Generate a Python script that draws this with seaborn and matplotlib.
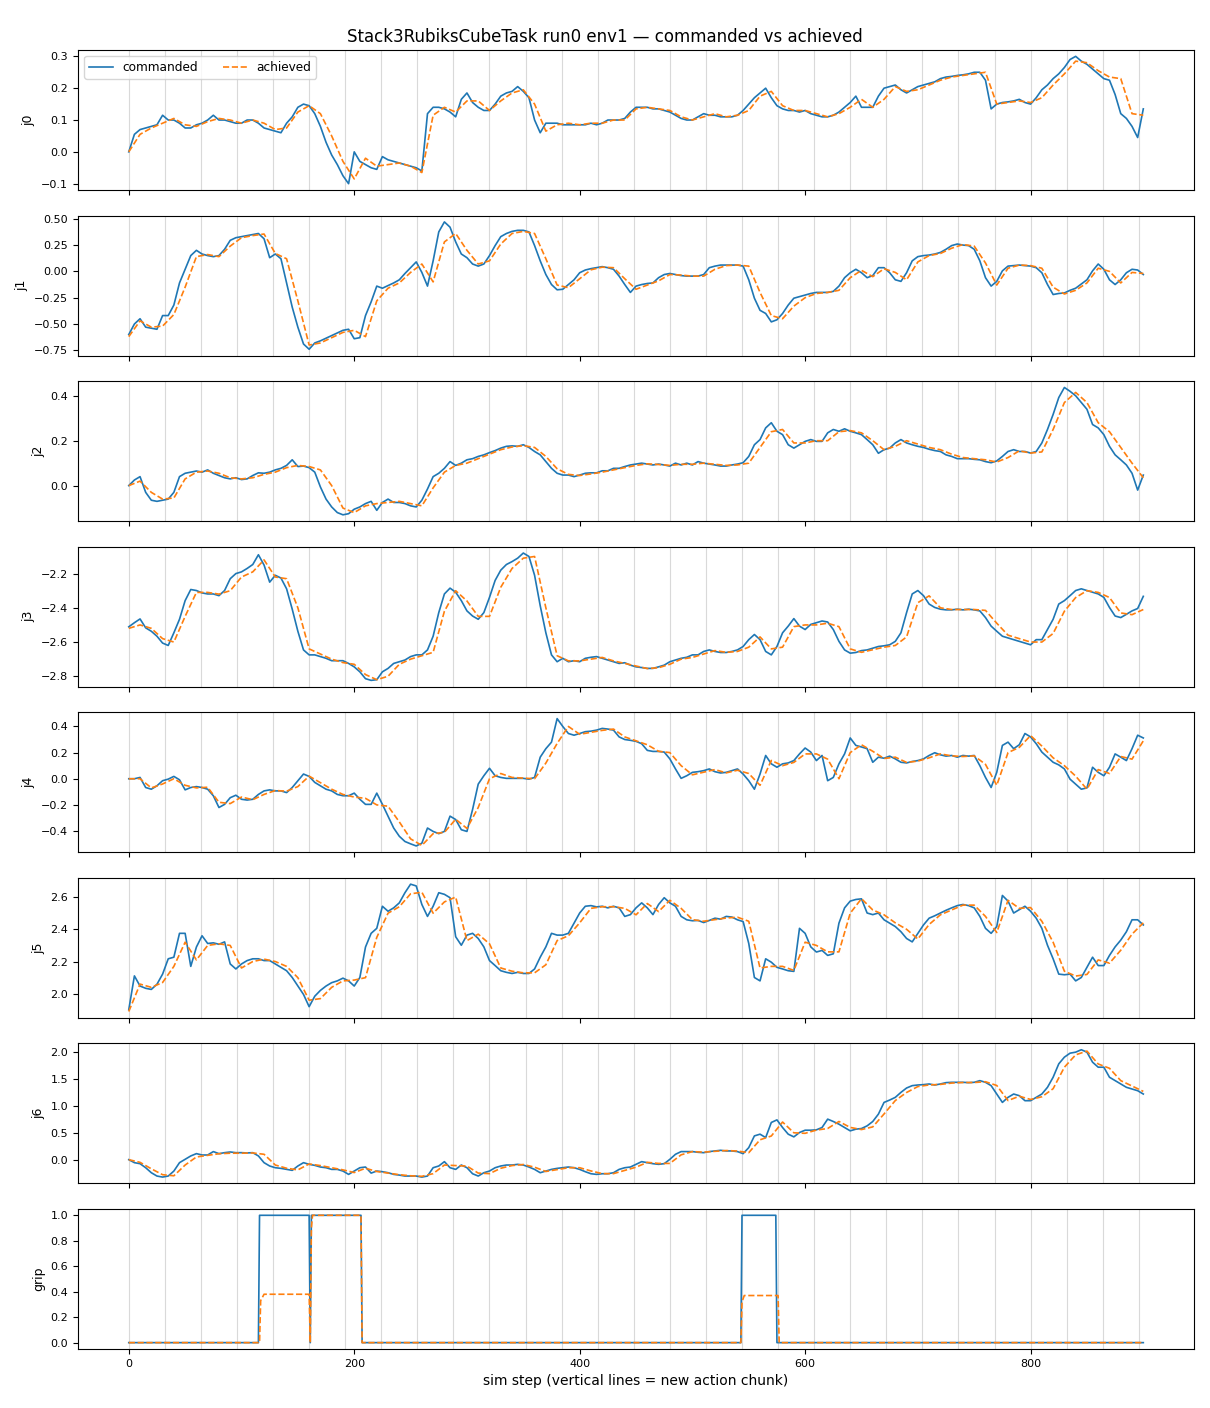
import numpy as np
import pandas as pd
import matplotlib
matplotlib.use("Agg")
import matplotlib.pyplot as plt
import seaborn as sns

# ---------------- data ----------------
CMD_STEP = 5    # commanded sampled every 5 sim steps
ACH_STEP = 10   # achieved sampled every 10 sim steps
CHUNK = 32      # new action chunk every 32 steps
joint_names = ["j0", "j1", "j2", "j3", "j4", "j5", "j6"]

j0_cmd = [0.00, 0.055, 0.07, 0.075, 0.08, 0.085, 0.115, 0.10, 0.10, 0.09,
          0.075, 0.075, 0.085, 0.09, 0.10, 0.115, 0.10, 0.10, 0.095, 0.09,
          0.09, 0.10, 0.10, 0.09, 0.075, 0.07, 0.065, 0.06, 0.09, 0.11,
          0.14, 0.15, 0.145, 0.12, 0.08, 0.03, -0.01, -0.04, -0.075, -0.10,
          0.0, -0.03, -0.04, -0.05, -0.055, -0.015, -0.025, -0.03, -0.035, -0.04,
          -0.045, -0.05, -0.06, 0.12, 0.14, 0.14, 0.135, 0.125, 0.11, 0.165,
          0.185, 0.155, 0.14, 0.13, 0.13, 0.15, 0.175, 0.185, 0.19, 0.205,
          0.19, 0.17, 0.10, 0.06, 0.09, 0.09, 0.09, 0.085, 0.085, 0.085,
          0.085, 0.085, 0.09, 0.085, 0.09, 0.10, 0.10, 0.10, 0.105, 0.125,
          0.14, 0.14, 0.14, 0.135, 0.135, 0.13, 0.125, 0.115, 0.105, 0.10,
          0.10, 0.11, 0.12, 0.115, 0.115, 0.11, 0.11, 0.11, 0.115, 0.13,
          0.15, 0.17, 0.185, 0.20, 0.17, 0.145, 0.135, 0.13, 0.13, 0.125,
          0.13, 0.12, 0.115, 0.11, 0.11, 0.115, 0.125, 0.14, 0.155, 0.175,
          0.14, 0.14, 0.14, 0.175, 0.20, 0.205, 0.21, 0.195, 0.185, 0.195,
          0.205, 0.21, 0.215, 0.22, 0.23, 0.235, 0.237, 0.24, 0.242, 0.245,
          0.25, 0.25, 0.225, 0.135, 0.15, 0.155, 0.157, 0.16, 0.165, 0.155,
          0.15, 0.17, 0.195, 0.21, 0.23, 0.245, 0.265, 0.29, 0.30, 0.285,
          0.275, 0.26, 0.245, 0.23, 0.225, 0.18, 0.12, 0.105, 0.08, 0.045,
          0.135]
j0_ach = [0.0, 0.055, 0.075, 0.09, 0.105, 0.085, 0.08, 0.095, 0.105, 0.10,
          0.09, 0.10, 0.09, 0.07, 0.075, 0.125, 0.145, 0.12, 0.05, -0.03,
          -0.085, -0.02, -0.045, -0.04, -0.035, -0.045, -0.065, 0.115, 0.14, 0.125,
          0.16, 0.16, 0.13, 0.16, 0.185, 0.195, 0.15, 0.065, 0.085, 0.09,
          0.085, 0.09, 0.09, 0.10, 0.10, 0.135, 0.14, 0.135, 0.13, 0.11,
          0.10, 0.11, 0.12, 0.11, 0.115, 0.13, 0.175, 0.19, 0.145, 0.13,
          0.13, 0.12, 0.11, 0.12, 0.14, 0.165, 0.14, 0.165, 0.205, 0.19,
          0.195, 0.21, 0.225, 0.235, 0.24, 0.245, 0.25, 0.15, 0.155, 0.16,
          0.155, 0.17, 0.21, 0.245, 0.285, 0.28, 0.255, 0.235, 0.23, 0.12,
          0.115]

j1_cmd = [-0.60, -0.50, -0.45, -0.53, -0.54, -0.55, -0.42, -0.42, -0.32, -0.11,
          0.02, 0.15, 0.20, 0.165, 0.15, 0.14, 0.15, 0.21, 0.295, 0.32,
          0.33, 0.34, 0.35, 0.36, 0.31, 0.13, 0.165, 0.12, -0.11, -0.34,
          -0.53, -0.69, -0.74, -0.68, -0.66, -0.635, -0.61, -0.585, -0.56, -0.55,
          -0.64, -0.63, -0.42, -0.29, -0.14, -0.16, -0.135, -0.11, -0.08, -0.02,
          0.035, 0.09, -0.01, -0.14, 0.10, 0.375, 0.47, 0.42, 0.28, 0.165,
          0.13, 0.07, 0.05, 0.07, 0.15, 0.245, 0.33, 0.36, 0.38, 0.39,
          0.39, 0.375, 0.245, 0.10, -0.03, -0.125, -0.175, -0.17, -0.125, -0.08,
          -0.013, 0.013, 0.026, 0.035, 0.045, 0.035, 0.02, -0.045, -0.125, -0.20,
          -0.14, -0.125, -0.115, -0.11, -0.06, -0.03, -0.02, -0.03, -0.04, -0.045,
          -0.045, -0.045, -0.03, 0.035, 0.05, 0.06, 0.06, 0.06, 0.06, 0.05,
          -0.08, -0.255, -0.37, -0.40, -0.48, -0.46, -0.40, -0.32, -0.255, -0.24,
          -0.225, -0.21, -0.20, -0.20, -0.20, -0.19, -0.14, -0.06, -0.013, 0.02,
          -0.013, -0.06, -0.04, 0.035, 0.035, -0.013, -0.08, -0.095, -0.013, 0.10,
          0.14, 0.15, 0.155, 0.165, 0.18, 0.21, 0.245, 0.26, 0.25, 0.245,
          0.21, 0.10, -0.06, -0.14, -0.095, 0.005, 0.05, 0.055, 0.06, 0.055,
          0.05, 0.035, -0.013, -0.125, -0.22, -0.21, -0.205, -0.18, -0.16, -0.12,
          -0.08, 0.005, 0.07, 0.02, -0.08, -0.125, -0.08, -0.013, 0.02, 0.013,
          -0.03]
j1_ach = [-0.62, -0.47, -0.53, -0.52, -0.41, -0.15, 0.14, 0.16, 0.14, 0.24,
          0.32, 0.34, 0.355, 0.17, 0.12, -0.28, -0.70, -0.68, -0.63, -0.58,
          -0.56, -0.62, -0.28, -0.16, -0.11, -0.01, 0.07, -0.10, 0.28, 0.36,
          0.20, 0.07, 0.10, 0.26, 0.36, 0.38, 0.36, 0.12, -0.13, -0.155,
          -0.07, 0.015, 0.04, 0.035, -0.07, -0.17, -0.13, -0.09, -0.03, -0.035,
          -0.045, -0.045, 0.02, 0.055, 0.06, 0.05, -0.20, -0.42, -0.45, -0.33,
          -0.25, -0.21, -0.20, -0.18, -0.06, 0.01, -0.05, 0.025, -0.01, -0.08,
          0.09, 0.15, 0.17, 0.22, 0.255, 0.24, 0.08, -0.13, 0.03, 0.06,
          0.055, 0.03, -0.15, -0.215, -0.18, -0.11, 0.03, 0.0, -0.11, -0.01,
          -0.02]

j2_cmd = [0.0, 0.025, 0.04, -0.03, -0.065, -0.07, -0.065, -0.06, -0.03, 0.04,
          0.055, 0.06, 0.065, 0.06, 0.07, 0.055, 0.045, 0.035, 0.03, 0.035,
          0.027, 0.03, 0.045, 0.057, 0.055, 0.06, 0.07, 0.077, 0.09, 0.115,
          0.085, 0.087, 0.08, 0.06, -0.006, -0.06, -0.095, -0.12, -0.13, -0.125,
          -0.105, -0.095, -0.08, -0.07, -0.11, -0.075, -0.06, -0.075, -0.075, -0.08,
          -0.09, -0.095, -0.065, -0.015, 0.04, 0.055, 0.077, 0.107, 0.09, 0.10,
          0.115, 0.12, 0.13, 0.137, 0.147, 0.156, 0.167, 0.175, 0.177, 0.175,
          0.182, 0.17, 0.152, 0.137, 0.107, 0.077, 0.055, 0.047, 0.047, 0.04,
          0.047, 0.055, 0.057, 0.057, 0.066, 0.066, 0.077, 0.077, 0.085, 0.092,
          0.096, 0.10, 0.096, 0.092, 0.096, 0.092, 0.087, 0.10, 0.092, 0.10,
          0.092, 0.107, 0.10, 0.096, 0.092, 0.087, 0.087, 0.092, 0.096, 0.102,
          0.13, 0.182, 0.205, 0.257, 0.28, 0.242, 0.227, 0.182, 0.167, 0.182,
          0.197, 0.205, 0.197, 0.197, 0.235, 0.25, 0.242, 0.253, 0.242, 0.235,
          0.227, 0.205, 0.182, 0.144, 0.16, 0.167, 0.19, 0.205, 0.19, 0.182,
          0.175, 0.17, 0.162, 0.156, 0.152, 0.137, 0.13, 0.12, 0.12, 0.12,
          0.117, 0.115, 0.107, 0.102, 0.11, 0.13, 0.152, 0.16, 0.152, 0.152,
          0.145, 0.152, 0.19, 0.25, 0.317, 0.392, 0.437, 0.42, 0.40, 0.37,
          0.34, 0.272, 0.257, 0.227, 0.175, 0.137, 0.115, 0.092, 0.055, -0.02,
          0.047]
j2_ach = [0.0, 0.02, -0.03, -0.06, -0.055, 0.03, 0.06, 0.065, 0.055, 0.035,
          0.03, 0.035, 0.05, 0.06, 0.08, 0.09, 0.085, 0.07, 0.0, -0.10,
          -0.12, -0.09, -0.08, -0.075, -0.07, -0.08, -0.09, -0.01, 0.06, 0.09,
          0.10, 0.12, 0.14, 0.16, 0.172, 0.178, 0.17, 0.13, 0.075, 0.05,
          0.045, 0.052, 0.06, 0.07, 0.08, 0.09, 0.097, 0.094, 0.09, 0.095,
          0.095, 0.10, 0.095, 0.09, 0.092, 0.10, 0.17, 0.24, 0.25, 0.19,
          0.19, 0.20, 0.20, 0.24, 0.245, 0.235, 0.20, 0.16, 0.175, 0.20,
          0.185, 0.17, 0.16, 0.14, 0.125, 0.12, 0.115, 0.105, 0.125, 0.155,
          0.145, 0.15, 0.25, 0.37, 0.415, 0.37, 0.28, 0.24, 0.17, 0.10,
          0.035]

j3_cmd = [-2.511, -2.487, -2.465, -2.517, -2.537, -2.566, -2.606, -2.62, -2.546, -2.467,
          -2.358, -2.293, -2.299, -2.313, -2.319, -2.319, -2.329, -2.299, -2.23, -2.20,
          -2.19, -2.17, -2.147, -2.09, -2.15, -2.25, -2.21, -2.226, -2.289, -2.408,
          -2.537, -2.646, -2.675, -2.675, -2.685, -2.695, -2.709, -2.709, -2.709, -2.725,
          -2.745, -2.774, -2.814, -2.824, -2.82, -2.774, -2.754, -2.725, -2.715, -2.705,
          -2.685, -2.675, -2.675, -2.646, -2.566, -2.428, -2.319, -2.285, -2.309, -2.358,
          -2.418, -2.448, -2.467, -2.428, -2.339, -2.24, -2.18, -2.147, -2.13, -2.11,
          -2.08, -2.10, -2.21, -2.388, -2.546, -2.675, -2.715, -2.695, -2.715, -2.709,
          -2.715, -2.695, -2.689, -2.685, -2.695, -2.705, -2.715, -2.725, -2.721, -2.735,
          -2.745, -2.749, -2.754, -2.754, -2.745, -2.735, -2.715, -2.705, -2.695, -2.689,
          -2.675, -2.675, -2.655, -2.646, -2.655, -2.661, -2.661, -2.655, -2.646, -2.626,
          -2.586, -2.556, -2.586, -2.655, -2.675, -2.626, -2.546, -2.507, -2.463, -2.507,
          -2.527, -2.497, -2.487, -2.477, -2.483, -2.527, -2.596, -2.646, -2.665, -2.661,
          -2.65, -2.646, -2.636, -2.626, -2.622, -2.616, -2.596, -2.546, -2.428, -2.319,
          -2.299, -2.329, -2.378, -2.398, -2.408, -2.412, -2.412, -2.408, -2.412, -2.408,
          -2.412, -2.418, -2.457, -2.507, -2.537, -2.566, -2.576, -2.586, -2.596, -2.606,
          -2.616, -2.586, -2.586, -2.527, -2.467, -2.378, -2.358, -2.329, -2.299, -2.289,
          -2.299, -2.309, -2.319, -2.339, -2.398, -2.448, -2.457, -2.438, -2.418, -2.404,
          -2.333]
j3_ach = [-2.52, -2.50, -2.52, -2.58, -2.60, -2.45, -2.31, -2.31, -2.32, -2.30,
          -2.22, -2.19, -2.12, -2.22, -2.23, -2.40, -2.64, -2.67, -2.70, -2.72,
          -2.73, -2.79, -2.82, -2.80, -2.73, -2.70, -2.68, -2.66, -2.42, -2.30,
          -2.36, -2.45, -2.45, -2.28, -2.17, -2.11, -2.10, -2.40, -2.68, -2.71,
          -2.71, -2.70, -2.69, -2.71, -2.725, -2.74, -2.755, -2.75, -2.73, -2.70,
          -2.69, -2.67, -2.65, -2.66, -2.655, -2.63, -2.57, -2.64, -2.63, -2.51,
          -2.50, -2.50, -2.49, -2.51, -2.64, -2.66, -2.645, -2.63, -2.62, -2.57,
          -2.37, -2.33, -2.40, -2.41, -2.41, -2.41, -2.415, -2.49, -2.56, -2.58,
          -2.60, -2.60, -2.55, -2.42, -2.34, -2.30, -2.31, -2.34, -2.43, -2.44,
          -2.41]

j4_cmd = [0.0, 0.0, 0.01, -0.067, -0.08, -0.054, -0.015, -0.003, 0.018, -0.008,
          -0.085, -0.067, -0.06, -0.067, -0.08, -0.13, -0.22, -0.196, -0.145, -0.126,
          -0.157, -0.163, -0.157, -0.12, -0.093, -0.085, -0.093, -0.093, -0.106, -0.067,
          -0.015, 0.036, 0.018, -0.028, -0.054, -0.08, -0.093, -0.12, -0.13, -0.13,
          -0.11, -0.157, -0.196, -0.196, -0.11, -0.196, -0.286, -0.377, -0.44, -0.48,
          -0.498, -0.514, -0.493, -0.377, -0.403, -0.42, -0.403, -0.286, -0.312, -0.39,
          -0.403, -0.235, -0.041, 0.023, 0.08, 0.023, 0.01, 0.003, 0.003, 0.003,
          0.003, -0.003, 0.01, 0.165, 0.23, 0.28, 0.46, 0.40, 0.346, 0.333,
          0.346, 0.36, 0.364, 0.372, 0.385, 0.38, 0.372, 0.32, 0.30, 0.294,
          0.286, 0.268, 0.217, 0.209, 0.209, 0.204, 0.152, 0.075, 0.003, 0.023,
          0.049, 0.054, 0.062, 0.075, 0.054, 0.044, 0.049, 0.062, 0.075, 0.036,
          -0.015, -0.08, 0.036, 0.178, 0.114, 0.088, 0.114, 0.121, 0.139, 0.19,
          0.235, 0.204, 0.139, 0.178, -0.015, 0.01, 0.114, 0.19, 0.312, 0.255,
          0.243, 0.23, 0.126, 0.165, 0.157, 0.173, 0.152, 0.126, 0.121, 0.132,
          0.139, 0.152, 0.178, 0.199, 0.183, 0.173, 0.178, 0.165, 0.178, 0.173,
          0.178, 0.10, 0.01, -0.067, 0.049, 0.255, 0.28, 0.23, 0.26, 0.346,
          0.32, 0.268, 0.204, 0.165, 0.126, 0.106, 0.075, -0.003, -0.041, -0.08,
          -0.07, 0.088, 0.049, 0.023, 0.088, 0.19, 0.165, 0.139, 0.23, 0.333,
          0.312]
j4_ach = [0.0, 0.0, -0.07, -0.04, 0.0, -0.05, -0.07, -0.065, -0.18, -0.19,
          -0.14, -0.16, -0.12, -0.09, -0.095, -0.06, 0.02, -0.03, -0.08, -0.12,
          -0.14, -0.15, -0.20, -0.21, -0.33, -0.46, -0.51, -0.42, -0.41, -0.31,
          -0.38, -0.22, 0.0, 0.04, 0.01, 0.005, 0.0, 0.12, 0.27, 0.40,
          0.34, 0.355, 0.37, 0.38, 0.32, 0.29, 0.26, 0.21, 0.20, 0.10,
          0.03, 0.05, 0.07, 0.045, 0.065, 0.04, -0.05, 0.14, 0.10, 0.125,
          0.19, 0.19, 0.15, 0.0, 0.20, 0.26, 0.21, 0.155, 0.165, 0.125,
          0.135, 0.16, 0.19, 0.175, 0.17, 0.175, 0.11, -0.05, 0.20, 0.24,
          0.33, 0.25, 0.16, 0.10, 0.02, -0.08, 0.07, 0.04, 0.17, 0.15,
          0.29]

j5_cmd = [1.901, 2.111, 2.048, 2.034, 2.027, 2.059, 2.122, 2.217, 2.227, 2.375,
          2.375, 2.17, 2.29, 2.36, 2.312, 2.316, 2.307, 2.322, 2.185, 2.154,
          2.185, 2.206, 2.217, 2.217, 2.206, 2.206, 2.185, 2.164, 2.143, 2.101,
          2.048, 1.996, 1.92, 1.985, 2.021, 2.048, 2.069, 2.08, 2.097, 2.08,
          2.048, 2.101, 2.29, 2.375, 2.406, 2.543, 2.512, 2.533, 2.564, 2.627,
          2.68, 2.669, 2.554, 2.48, 2.543, 2.627, 2.617, 2.596, 2.354, 2.301,
          2.364, 2.375, 2.343, 2.291, 2.206, 2.175, 2.143, 2.133, 2.126, 2.133,
          2.126, 2.126, 2.154, 2.227, 2.291, 2.375, 2.364, 2.364, 2.375, 2.438,
          2.501, 2.543, 2.547, 2.539, 2.543, 2.533, 2.543, 2.533, 2.48, 2.491,
          2.533, 2.564, 2.533, 2.491, 2.554, 2.596, 2.564, 2.543, 2.48, 2.459,
          2.453, 2.455, 2.442, 2.455, 2.469, 2.463, 2.48, 2.476, 2.459, 2.448,
          2.312, 2.101, 2.08, 2.217, 2.196, 2.164, 2.154, 2.143, 2.139, 2.406,
          2.375, 2.291, 2.259, 2.269, 2.238, 2.248, 2.438, 2.533, 2.575, 2.585,
          2.589, 2.501, 2.491, 2.501, 2.459, 2.438, 2.417, 2.385, 2.343, 2.322,
          2.375, 2.427, 2.469, 2.484, 2.501, 2.518, 2.533, 2.547, 2.554, 2.547,
          2.533, 2.48, 2.406, 2.375, 2.417, 2.61, 2.575, 2.501, 2.522, 2.543,
          2.512, 2.469, 2.406, 2.301, 2.217, 2.122, 2.118, 2.122, 2.08, 2.101,
          2.164, 2.227, 2.175, 2.175, 2.238, 2.291, 2.333, 2.385, 2.459, 2.459,
          2.427]
j5_ach = [1.89, 2.06, 2.04, 2.07, 2.17, 2.32, 2.21, 2.30, 2.31, 2.30,
          2.16, 2.20, 2.215, 2.20, 2.17, 2.10, 1.96, 1.97, 2.04, 2.08,
          2.085, 2.10, 2.35, 2.50, 2.54, 2.62, 2.63, 2.50, 2.57, 2.60,
          2.33, 2.37, 2.31, 2.16, 2.14, 2.13, 2.13, 2.18, 2.33, 2.36,
          2.44, 2.53, 2.54, 2.54, 2.53, 2.49, 2.56, 2.51, 2.58, 2.53,
          2.46, 2.45, 2.46, 2.47, 2.475, 2.45, 2.16, 2.17, 2.17, 2.145,
          2.32, 2.30, 2.26, 2.26, 2.50, 2.59, 2.52, 2.49, 2.44, 2.40,
          2.34, 2.43, 2.49, 2.52, 2.55, 2.55, 2.48, 2.38, 2.58, 2.53,
          2.535, 2.45, 2.32, 2.14, 2.11, 2.12, 2.21, 2.19, 2.27, 2.37,
          2.44]

j6_cmd = [0.0, -0.056, -0.075, -0.15, -0.243, -0.305, -0.324, -0.305, -0.212, -0.056,
          0.006, 0.069, 0.112, 0.087, 0.087, 0.15, 0.112, 0.13, 0.143, 0.13,
          0.13, 0.125, 0.13, 0.069, -0.056, -0.118, -0.15, -0.162, -0.181, -0.199,
          -0.118, -0.056, -0.087, -0.106, -0.137, -0.15, -0.181, -0.181, -0.212, -0.274,
          -0.212, -0.15, -0.137, -0.25, -0.212, -0.224, -0.243, -0.274, -0.287, -0.305,
          -0.305, -0.305, -0.324, -0.305, -0.15, -0.118, -0.037, -0.15, -0.181, -0.10,
          -0.15, -0.262, -0.305, -0.243, -0.212, -0.15, -0.118, -0.10, -0.10, -0.087,
          -0.10, -0.137, -0.181, -0.243, -0.212, -0.181, -0.162, -0.15, -0.137, -0.15,
          -0.181, -0.224, -0.262, -0.274, -0.262, -0.262, -0.243, -0.181, -0.15, -0.137,
          -0.087, -0.037, -0.056, -0.075, -0.087, -0.075, 0.006, 0.10, 0.15, 0.15,
          0.15, 0.137, 0.13, 0.15, 0.162, 0.174, 0.162, 0.162, 0.15, 0.112,
          0.224, 0.442, 0.474, 0.411, 0.692, 0.74, 0.598, 0.474, 0.424, 0.505,
          0.548, 0.548, 0.555, 0.598, 0.754, 0.71, 0.66, 0.598, 0.536, 0.567,
          0.579, 0.629, 0.71, 0.847, 1.065, 1.109, 1.159, 1.252, 1.333, 1.377,
          1.389, 1.396, 1.408, 1.389, 1.408, 1.433, 1.439, 1.439, 1.439, 1.433,
          1.439, 1.47, 1.439, 1.377, 1.221, 1.065, 1.159, 1.221, 1.19, 1.097,
          1.097, 1.159, 1.221, 1.346, 1.533, 1.782, 1.907, 1.981, 2.0, 2.045,
          2.0, 1.813, 1.72, 1.72, 1.533, 1.47, 1.408, 1.346, 1.315, 1.283,
          1.221]
j6_ach = [0.0, -0.05, -0.17, -0.28, -0.30, -0.10, 0.05, 0.08, 0.11, 0.12,
          0.12, 0.125, 0.10, -0.10, -0.16, -0.19, -0.08, -0.11, -0.15, -0.19,
          -0.24, -0.16, -0.22, -0.25, -0.28, -0.30, -0.31, -0.26, -0.10, -0.11,
          -0.12, -0.25, -0.26, -0.16, -0.11, -0.09, -0.14, -0.22, -0.185, -0.15,
          -0.15, -0.21, -0.26, -0.26, -0.20, -0.14, -0.05, -0.07, -0.07, 0.09,
          0.15, 0.14, 0.155, 0.17, 0.16, 0.13, 0.37, 0.44, 0.70, 0.50,
          0.49, 0.55, 0.58, 0.71, 0.60, 0.56, 0.61, 0.85, 1.10, 1.25,
          1.36, 1.39, 1.40, 1.425, 1.435, 1.435, 1.45, 1.38, 1.10, 1.18,
          1.12, 1.17, 1.32, 1.72, 1.95, 2.02, 1.78, 1.70, 1.47, 1.37,
          1.27]

# gripper: (step, value) breakpoints
grip_cmd_steps = [0, 115, 116, 160, 161, 162, 206, 207, 543, 544, 574, 575, 900]
grip_cmd_vals = [0, 0, 1, 1, 0, 1, 1, 0, 0, 1, 1, 0, 0]
grip_ach_steps = [0, 116, 117, 120, 160, 161, 162, 163, 206, 207, 543, 544, 546, 576, 577, 900]
grip_ach_vals = [0, 0, 0.33, 0.38, 0.38, 0.0, 0.9, 1.0, 1.0, 0.0, 0, 0.32, 0.37, 0.37, 0, 0]

cmd_series = [j0_cmd, j1_cmd, j2_cmd, j3_cmd, j4_cmd, j5_cmd, j6_cmd]
ach_series = [j0_ach, j1_ach, j2_ach, j3_ach, j4_ach, j5_ach, j6_ach]

# ---------------- plotting ----------------
C_CMD = "#1f77b4"
C_ACH = "#ff7f0e"
LW = 1.2

fig, axes = plt.subplots(8, 1, figsize=(12.1, 14.08), dpi=100, sharex=True)
fig.subplots_adjust(left=0.0645, right=0.9868, top=0.9645, bottom=0.0419, hspace=0.182)

panels = []
for name, c, a in zip(joint_names, cmd_series, ach_series):
    xc = np.arange(len(c)) * CMD_STEP
    xa = np.arange(len(a)) * ACH_STEP
    panels.append((name, xc, np.array(c), xa, np.array(a)))
panels.append(("grip", np.array(grip_cmd_steps), np.array(grip_cmd_vals, float),
               np.array(grip_ach_steps), np.array(grip_ach_vals, float)))

for i, (ax, (name, xc, yc, xa, ya)) in enumerate(zip(axes, panels)):
    for s in range(0, 901, CHUNK):
        ax.axvline(s, color="#d9d9d9", lw=0.8, zorder=0)
    dc = pd.DataFrame({"step": xc, "val": yc})
    da = pd.DataFrame({"step": xa, "val": ya})
    sns.lineplot(data=dc, x="step", y="val", ax=ax, color=C_CMD, lw=LW,
                 estimator=None, label="commanded" if i == 0 else None, zorder=2)
    sns.lineplot(data=da, x="step", y="val", ax=ax, color=C_ACH, lw=LW,
                 linestyle="--", estimator=None,
                 label="achieved" if i == 0 else None, zorder=3)
    ax.set_ylabel(name, fontsize=9)
    ax.set_xlabel("")
    ax.tick_params(labelsize=8)
    if i == 0:
        ax.legend(loc="upper left", ncol=2, fontsize=8.7)
    else:
        leg = ax.get_legend()
        if leg is not None:
            leg.remove()

axes[-1].set_xlabel("sim step (vertical lines = new action chunk)", fontsize=10)
axes[-1].set_xticks([0, 200, 400, 600, 800])
fig.suptitle("Stack3RubiksCubeTask run0 env1 — commanded vs achieved", fontsize=12)

fig.savefig("out.png", dpi=100)
